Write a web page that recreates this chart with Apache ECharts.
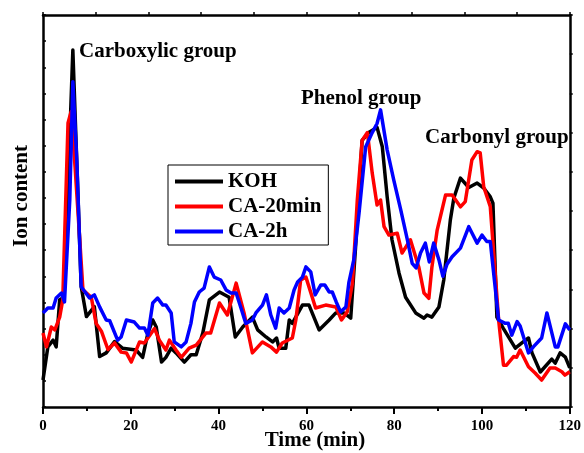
<!DOCTYPE html>
<html>
<head>
<meta charset="utf-8">
<script src="https://cdn.jsdelivr.net/npm/echarts@6/dist/echarts.min.js"></script>
<style>html,body{margin:0;padding:0;background:#fff;}#c{width:584px;height:453px;}</style>
</head>
<body>
<div id="c"></div>
<script>
// ---- data (time in min, ion content in arbitrary units) ----
var seriesNames = ['KOH', 'CA-20min', 'CA-2h'];
var xTicks = [0, 20, 40, 60, 80, 100, 120];

var kohT = [0,1.1,2.3,3.0,3.8,4.8,6.8,8.7,9.9,11.7,12.9,14.4,16.3,18.1,21.2,22.7,23.9,25,25.8,27,28,29.2,30.3,32.2,33.7,34.9,36.4,37.9,40.2,42.4,43.8,45.5,47.7,48.9,50.8,52.3,53.2,53.8,55.3,56.1,56.8,59.1,60.6,62.9,65.2,66.7,68.6,70.1,71.2,72.7,74.2,76.1,77.3,78.4,79.5,81.1,82.6,84.9,86.8,87.5,88.6,90.2,91.3,92.8,93.6,95.1,97,98.9,100.4,101.9,102.5,103.4,104.9,107.6,109.1,110.6,111.4,113.3,115.9,116.7,117.8,119,120];
var kohV = [1.03,2.3,2.56,2.3,4.1,4.2,13.66,4.6,3.46,3.84,1.93,2.07,2.5,2.25,2.18,1.9,2.83,3.33,3.06,1.72,1.9,2.25,2.07,1.72,2.0,2.0,2.83,4.1,4.4,4.2,2.68,3.06,3.44,2.95,2.68,2.49,2.64,2.25,2.25,3.33,3.2,3.9,3.9,2.95,3.33,3.6,3.6,3.4,6.1,10.2,10.5,10.7,9.96,8.05,6.4,5.13,4.2,3.6,3.4,3.52,3.44,3.83,4.86,7.16,8.0,8.76,8.4,8.57,8.38,8.04,7.8,3.44,3.0,2.25,2.45,2.64,2.07,1.34,1.83,1.68,2.07,1.91,1.5];

var ca20T = [0,0.8,1.9,2.7,3.8,4.5,5.7,6.4,7.3,8.3,9.1,11,12.1,13.3,14.8,16.3,17.8,19,20.1,22,23.1,25.4,26.5,28,28.8,30.3,31.5,33.3,34.9,37.1,38.2,40.2,42,44,45.8,47.7,50,51.9,53.2,54.5,56.8,57.6,58.7,59.9,62.1,64.4,66.7,68,69.3,70.5,71.6,72.7,73.9,75,76.1,76.9,77.7,78.8,80.7,81.8,83.7,85.6,86.8,87.9,88.6,89.8,91.7,93.2,95.1,96.2,97.7,98.9,99.6,100.4,101.9,103.8,104.9,105.6,107.2,107.9,108.7,110.6,112.1,113.6,115.5,116.7,118.2,118.9,120];
var ca20V = [2.83,2.3,3.06,2.95,3.44,4.1,10.87,11.3,9.2,6.6,4.48,4.2,3.2,2.9,2.2,2.45,2.1,2.07,1.72,2.49,2.45,3.0,2.56,2.18,2.56,2.18,1.9,2.25,2.37,2.83,2.83,3.98,3.52,4.74,3.6,2.07,2.49,2.3,2.1,2.45,2.64,3.33,4.86,4.97,3.79,3.9,3.83,3.33,3.64,4.74,7.92,10.2,10.5,8.95,7.73,7.92,6.9,6.58,6.65,5.89,6.4,5.36,4.36,4.16,5.36,6.77,8.11,8.11,7.66,7.86,9.45,9.77,9.72,8.43,7.66,3.33,1.6,1.6,1.93,1.9,2.18,1.54,1.3,1.03,1.49,1.49,1.35,1.22,1.35];

var ca2hT = [0,1.1,2.3,3,4.2,4.9,6.1,6.8,7.7,8.7,10.6,11.7,12.9,14.4,15.2,17,17.8,19,20.8,22,23.1,23.9,25,26.1,27.3,28,29.2,29.9,31.5,32.6,33.7,34.5,35.6,36.7,37.9,39,40.5,41.7,42.8,44,45.1,46.2,47.7,48.5,50,50.9,51.9,53,53.8,54.9,56.1,57.2,58,59.1,59.9,61,62,63.3,64.2,65.2,65.9,66.8,67.8,69,69.7,70.8,72,73.5,75,76.1,76.9,78.4,79.9,81.5,83,84.1,85,86,87.1,88,89,90.2,91.1,92,93.2,95.1,97,98.9,100,101.1,101.9,103.8,105.3,106,106.8,108,108.7,110.6,111.7,113.6,114.8,116.7,117.3,119,120];
var ca2hV = [3.6,3.79,3.79,4.17,4.36,4.02,7.92,12.45,9.45,4.6,4.17,4.29,3.83,3.33,3.3,2.56,2.68,3.33,3.25,3.02,3.02,2.75,3.98,4.17,3.9,3.9,3.6,2.49,2.3,2.49,3.2,4.02,4.4,4.55,5.36,4.97,4.86,4.48,4.36,4.36,3.79,3.2,3.33,3.6,3.9,4.29,3.52,3.02,3.79,3.6,3.79,4.48,4.78,4.97,5.36,5.17,4.29,4.67,4.67,4.4,4.4,4.02,3.64,3.83,4.78,5.63,7.42,9.95,10.5,10.85,11.37,9.84,8.69,7.54,6.4,5.5,5.32,5.89,6.27,5.55,6.27,5.63,5.0,5.45,5.75,6.08,6.9,6.27,6.58,6.33,6.33,3.33,3.2,3.2,2.75,3.27,3.1,2.07,2.3,2.64,3.6,2.3,2.3,3.18,2.95];

var annotations = [
  {text: 'Carboxylic group', x: 79, y: 53},
  {text: 'Phenol group', x: 301, y: 100},
  {text: 'Carbonyl group', x: 425, y: 139}
];

function pairs(t, v){ return t.map(function(x,i){ return [x, v[i]]; }); }

var FONT = 'Liberation Serif, Times New Roman, serif';
var chart = echarts.init(document.getElementById('c'), null, {renderer:'canvas'});

var colors = ['#000000', '#ff0000', '#0000ff'];
var datas = [pairs(kohT, kohV), pairs(ca20T, ca20V), pairs(ca2hT, ca2hV)];

var graphics = annotations.map(function(a){
  return {type:'text', left:a.x, top:a.y - 12, z:100,
    style:{text:a.text, font:'bold 21px ' + FONT, fill:'#000'}};
});
graphics.push({type:'text', x:22, y:196, rotation:Math.PI/2, z:100,
  style:{text:'Ion content', font:'bold 21px ' + FONT, fill:'#000', textAlign:'center', textVerticalAlign:'middle'}});
graphics.push({type:'text', x:315, y:441, z:100,
  style:{text:'Time (min)', font:'bold 21px ' + FONT, fill:'#000', textAlign:'center', textVerticalAlign:'middle'}});

var axLine = {show:true, onZero:false, lineStyle:{color:'#000', width:2.5}};

chart.setOption({
  animation:false,
  backgroundColor:'#fff',
  grid:{left:43, right:13, top:15, bottom:46, containLabel:false},
  legend:{
    orient:'vertical', left:168, top:165, padding:[6,7,3,7], itemGap:4,
    itemWidth:48, itemHeight:4, icon:'rect',
    borderColor:'#000', borderWidth:1, backgroundColor:'#fff',
    textStyle:{fontFamily:FONT, fontWeight:'bold', fontSize:21, color:'#000'},
    data:seriesNames
  },
  graphic:graphics,
  xAxis:[
    {type:'value', position:'bottom', min:0, max:120, interval:20,
     axisLine:axLine,
     axisTick:{show:true, inside:false, length:7, lineStyle:{color:'#000', width:2}},
     minorTick:{show:true, splitNumber:2, length:4, lineStyle:{color:'#000', width:2}},
     axisLabel:{show:true, margin:12, fontFamily:FONT, fontWeight:'bold', fontSize:15, color:'#000',
       formatter:function(v){ return xTicks.indexOf(v) >= 0 ? String(v) : ''; }},
     splitLine:{show:false}},
    {type:'value', position:'top', min:0, max:10, interval:1,
     axisLine:axLine,
     axisTick:{show:true, inside:false, length:3, lineStyle:{color:'#000', width:1.5}},
     axisLabel:{show:false}, splitLine:{show:false}}
  ],
  yAxis:[
    {type:'value', position:'left', min:0, max:15, interval:1,
     axisLine:axLine,
     axisTick:{show:true, inside:true, length:3, lineStyle:{color:'#000', width:1.5}},
     axisLabel:{show:false}, splitLine:{show:false}},
    {type:'value', position:'right', min:0, max:10, interval:1,
     axisLine:axLine,
     axisTick:{show:true, inside:false, length:3, lineStyle:{color:'#000', width:1.5}},
     axisLabel:{show:false}, splitLine:{show:false}}
  ],
  series: seriesNames.map(function(n, i){
    return {name:n, type:'line', xAxisIndex:0, yAxisIndex:0, data:datas[i],
      showSymbol:false, symbol:'none', smooth:false, color:colors[i],
      lineStyle:{color:colors[i], width:3.5, join:'round'}, z:2+i};
  })
});
</script>
</body>
</html>
